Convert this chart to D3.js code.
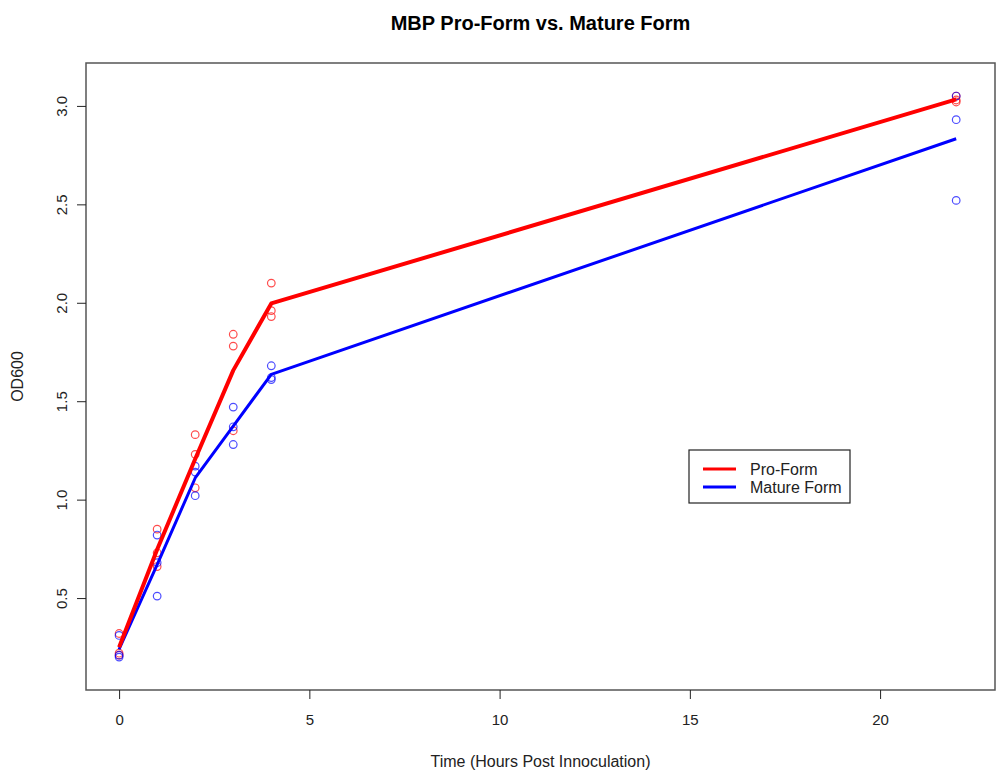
<!DOCTYPE html>
<html>
<head>
<meta charset="utf-8">
<script src="https://cdn.jsdelivr.net/npm/d3@7"></script>
<style>
  body { margin: 0; background: #fff; }
  text { font-family: "Liberation Sans", Arial, sans-serif; }
</style>
</head>
<body>
<div id="chart"></div>
<script>
// time points (hours post innoculation)
const hours = [0, 1, 2, 3, 4, 22];

// OD600 replicates
const proRep1 = [0.32, 0.85, 1.33, 1.84, 2.10, 3.05];
const proRep2 = [0.22, 0.73, 1.23, 1.78, 1.96, 3.03];
const proRep3 = [0.21, 0.66, 1.06, 1.35, 1.93, 3.02];

const matureRep1 = [0.31, 0.82, 1.17, 1.47, 1.68, 3.05];
const matureRep2 = [0.21, 0.68, 1.14, 1.37, 1.62, 2.93];
const matureRep3 = [0.20, 0.51, 1.02, 1.28, 1.61, 2.52];

const xTicks = [0, 5, 10, 15, 20];
const yTicks = [0.5, 1.0, 1.5, 2.0, 2.5, 3.0];

const seriesNames = ["Pro-Form", "Mature Form"];
const seriesColors = ["#ff0000", "#0000ff"];

const width = 996;
const height = 782;
const plot = { left: 86, right: 995, top: 63, bottom: 690 };

const svg = d3.select("#chart").append("svg")
    .attr("width", width)
    .attr("height", height);

const x = d3.scaleLinear().domain([-0.87, 23.02]).range([plot.left, plot.right]);
const y = d3.scaleLinear().domain([0.033, 3.218]).range([plot.bottom, plot.top]);

const series = [
  { name: seriesNames[0], color: seriesColors[0], reps: [proRep1, proRep2, proRep3], width: 4 },
  { name: seriesNames[1], color: seriesColors[1], reps: [matureRep1, matureRep2, matureRep3], width: 3 }
];

// points
series.forEach(function(s) {
  const pts = [];
  s.reps.forEach(r => r.forEach((v, i) => pts.push({ t: hours[i], v: v })));
  svg.append("g").selectAll("circle")
    .data(pts)
    .enter()
    .append("circle")
    .attr("cx", d => x(d.t))
    .attr("cy", d => y(d.v))
    .attr("r", 3.8)
    .attr("fill", "none")
    .attr("stroke", s.color)
    .attr("stroke-opacity", 0.7)
    .attr("stroke-width", 1.2);
});

// mean lines (blue under red)
const line = d3.line().x(d => x(d.t)).y(d => y(d.v));
series.slice().reverse().forEach(function(s) {
  const means = hours.map((t, i) => ({ t: t, v: d3.mean(s.reps, r => r[i]) }));
  svg.append("path")
    .datum(means)
    .attr("d", line)
    .attr("fill", "none")
    .attr("stroke", s.color)
    .attr("stroke-width", s.width)
    .attr("stroke-linejoin", "round");
});

// box
svg.append("rect")
  .attr("x", plot.left).attr("y", plot.top)
  .attr("width", plot.right - plot.left).attr("height", plot.bottom - plot.top)
  .attr("fill", "none").attr("stroke", "#555").attr("stroke-width", 1.5);

// x axis
const xAxis = svg.append("g")
  .attr("transform", "translate(0," + plot.bottom + ")")
  .call(d3.axisBottom(x).tickValues(xTicks).tickFormat(d3.format("d")).tickSize(9).tickPadding(15));
xAxis.select(".domain").remove();
xAxis.selectAll("text").attr("font-size", 15).attr("fill", "#222").attr("font-family", "Liberation Sans, Arial, sans-serif");
xAxis.selectAll("line").attr("stroke", "#222");

// y axis
const yAxis = svg.append("g")
  .attr("transform", "translate(" + plot.left + ",0)")
  .call(d3.axisLeft(y).tickValues(yTicks).tickFormat(d3.format(".1f")).tickSize(9));
yAxis.select(".domain").remove();
yAxis.selectAll("line").attr("stroke", "#222");
yAxis.selectAll("text")
  .attr("font-size", 15).attr("fill", "#222").attr("font-family", "Liberation Sans, Arial, sans-serif")
  .attr("x", null).attr("dy", null)
  .attr("text-anchor", "middle")
  .attr("transform", "translate(-24,0) rotate(-90)")
  .attr("dy", "0.35em");

// titles
svg.append("text")
  .attr("x", (plot.left + plot.right) / 2).attr("y", 30)
  .attr("text-anchor", "middle")
  .attr("font-size", 20).attr("font-weight", "bold")
  .text("MBP Pro-Form vs. Mature Form");

svg.append("text")
  .attr("x", (plot.left + plot.right) / 2).attr("y", 767)
  .attr("text-anchor", "middle")
  .attr("font-size", 16).attr("fill", "#222")
  .text("Time (Hours Post Innoculation)");

svg.append("text")
  .attr("transform", "translate(23," + (plot.top + plot.bottom) / 2 + ") rotate(-90)")
  .attr("text-anchor", "middle")
  .attr("font-size", 16).attr("fill", "#222")
  .text("OD600");

// legend
const legend = svg.append("g").attr("transform", "translate(689,450)");
legend.append("rect")
  .attr("width", 161).attr("height", 53)
  .attr("fill", "#fff").attr("stroke", "#222").attr("stroke-width", 1.2);
series.forEach(function(s, i) {
  const ly = 19 + i * 18;
  legend.append("line")
    .attr("x1", 14).attr("x2", 47).attr("y1", ly).attr("y2", ly)
    .attr("stroke", s.color).attr("stroke-width", 3);
  legend.append("text")
    .attr("x", 61).attr("y", ly).attr("dy", "0.35em")
    .attr("font-size", 16).attr("fill", "#222")
    .text(s.name);
});
</script>
</body>
</html>
